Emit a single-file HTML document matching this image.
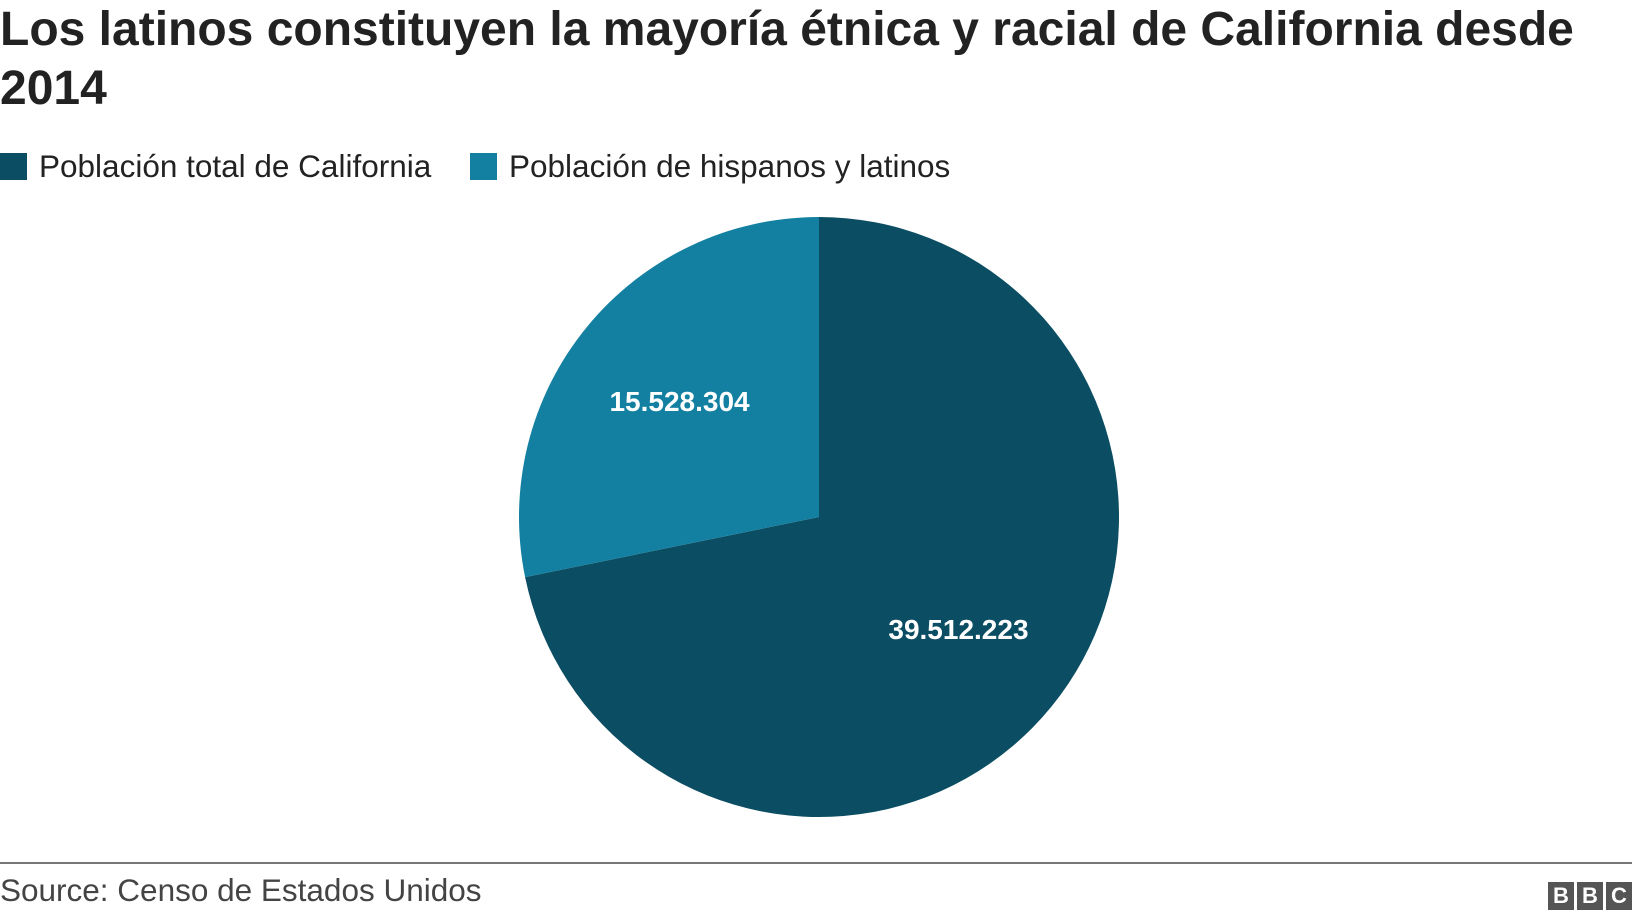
<!DOCTYPE html>
<html><head><meta charset="utf-8"><style>
body{margin:0;width:1632px;height:918px;background:#fff;font-family:"Liberation Sans",Arial,sans-serif;overflow:hidden;position:relative}
h1{position:absolute;left:0;top:0px;margin:0;font-size:48px;line-height:59px;font-weight:bold;color:#222;width:1620px}
.leg{position:absolute;top:148px;font-size:31.5px;color:#222;display:flex;align-items:center}
.sw{width:27px;height:27px;margin-right:12px}
.rule{position:absolute;left:0;top:862px;width:1632px;height:2px;background:#777}
.src{position:absolute;left:0;top:872px;font-size:31.5px;color:#444}
.bbc{position:absolute;right:0;top:882px;display:flex;gap:3px}
.bbc span{width:26px;height:28px;background:#555;color:#fff;font-weight:bold;font-size:22px;display:flex;align-items:center;justify-content:center}
</style></head><body>
<h1>Los latinos constituyen la mayoría étnica y racial de California desde 2014</h1>
<div class="leg" style="left:0"><div class="sw" style="background:#0b4d62"></div>Población total de California</div>
<div class="leg" style="left:470px"><div class="sw" style="background:#1380a1"></div>Población de hispanos y latinos</div>
<svg id="pie" width="1632" height="918" style="position:absolute;left:0;top:0"></svg>
<div class="rule"></div>
<div class="src">Source: Censo de Estados Unidos</div>
<div class="bbc"><span>B</span><span>B</span><span>C</span></div>
<script>
const categories=["Población total de California","Población de hispanos y latinos"];
const values=[39512223,15528304];
const labels=["39.512.223","15.528.304"];
const colors=["#0b4d62","#1380a1"];
const svg=document.getElementById('pie');
const NS="http://www.w3.org/2000/svg";
const cx=819,cy=517,r=300;
const total=values.reduce((a,b)=>a+b,0);
let a0=0;
function pt(a,rr){return [cx+rr*Math.sin(a),cy-rr*Math.cos(a)];}
values.forEach((v,i)=>{
  const a1=a0+v/total*2*Math.PI;
  const p0=pt(a0,r),p1=pt(a1,r);
  const large=(a1-a0)>Math.PI?1:0;
  const path=document.createElementNS(NS,'path');
  path.setAttribute('d',`M${cx},${cy}L${p0[0]},${p0[1]}A${r},${r} 0 ${large} 1 ${p1[0]},${p1[1]}Z`);
  path.setAttribute('fill',colors[i]);
  
  
  svg.appendChild(path);
  const m=pt((a0+a1)/2,r*0.6);
  const t=document.createElementNS(NS,'text');
  t.setAttribute('x',m[0]);t.setAttribute('y',m[1]+8);
  t.setAttribute('text-anchor','middle');
  t.setAttribute('fill','#fff');
  t.setAttribute('font-size','28');
  t.setAttribute('font-weight','bold');
  t.setAttribute('font-family','Liberation Sans, Arial, sans-serif');
  t.textContent=labels[i];
  
  
  svg.appendChild(t);
  a0=a1;
});
</script>
</body></html>
